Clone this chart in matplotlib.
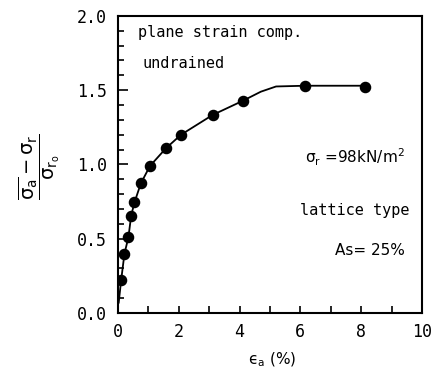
import numpy as np
import matplotlib
matplotlib.use('Agg')
import matplotlib.pyplot as plt
from matplotlib.ticker import MultipleLocator

plt.rcParams['mathtext.fontset'] = 'dejavusans'

# measured points (axial strain %, normalized deviator stress)
strain = [0.10, 0.21, 0.34, 0.43, 0.54, 0.75, 1.05, 1.58, 2.07, 3.11, 4.12, 6.15, 8.12]
stress = [0.22, 0.40, 0.51, 0.655, 0.745, 0.873, 0.99, 1.11, 1.20, 1.333, 1.43, 1.525, 1.52]

# fitted curve
curve_x = [0.02, 0.10, 0.21, 0.34, 0.43, 0.54, 0.75, 1.05, 1.58, 2.07, 3.11, 4.12, 4.70, 5.20, 6.15, 8.12]
curve_y = [0.07, 0.22, 0.40, 0.51, 0.655, 0.745, 0.873, 0.99, 1.11, 1.20, 1.333, 1.43, 1.49, 1.525, 1.53, 1.53]

x_ticks = [0, 2, 4, 6, 8, 10]
y_ticks = [0.0, 0.5, 1.0, 1.5, 2.0]

mono = 'DejaVu Sans Mono'

fig = plt.figure(figsize=(4.39, 3.70), dpi=100)
ax = fig.add_axes([0.269, 0.154, 0.692, 0.803])

ax.plot(curve_x, curve_y, color='black', linewidth=1.3)
ax.plot(strain, stress, 'o', color='black', markersize=7.3)

ax.set_xlim(0, 10)
ax.set_ylim(0, 2.0)
ax.set_xticks(x_ticks)
ax.set_yticks(y_ticks)
ax.set_xticklabels([str(v) for v in x_ticks], fontsize=12, family=mono)
ax.set_yticklabels(['%.1f' % v for v in y_ticks], fontsize=12, family=mono)
ax.xaxis.set_minor_locator(MultipleLocator(1))
ax.yaxis.set_minor_locator(MultipleLocator(0.1))
ax.tick_params(which='both', direction='in', top=False, right=False, width=1.2)
ax.tick_params(which='major', axis='y', length=7, pad=8)
ax.tick_params(which='minor', axis='y', length=4)
ax.tick_params(which='both', axis='x', length=5, pad=7)
for sp in ax.spines.values():
    sp.set_linewidth(1.5)

ax.text(0.66, 1.886, 'plane strain comp.', fontsize=11, family=mono, va='center')
ax.text(0.79, 1.677, 'undrained', fontsize=11, family=mono, va='center')
ax.text(6.15, 1.05, r'$\mathrm{\sigma_r}$ =98kN/m$^2$', fontsize=11, va='center')
ax.text(5.99, 0.687, 'lattice type', fontsize=11, family=mono, va='center')
ax.text(7.14, 0.424, 'As= 25%', fontsize=11, va='center')

fig.text(0.09, 0.55, r'$\dfrac{\overline{\mathrm{\sigma_a}}-\mathrm{\sigma_r}}{\mathrm{\sigma_{r_o}}}$',
         fontsize=14, rotation=90, ha='center', va='center')
fig.text(0.62, 0.027, '\u03f5$_\\mathrm{a}$ (%)', fontsize=11, ha='center', va='center')

fig.savefig('out.png', dpi=100)
